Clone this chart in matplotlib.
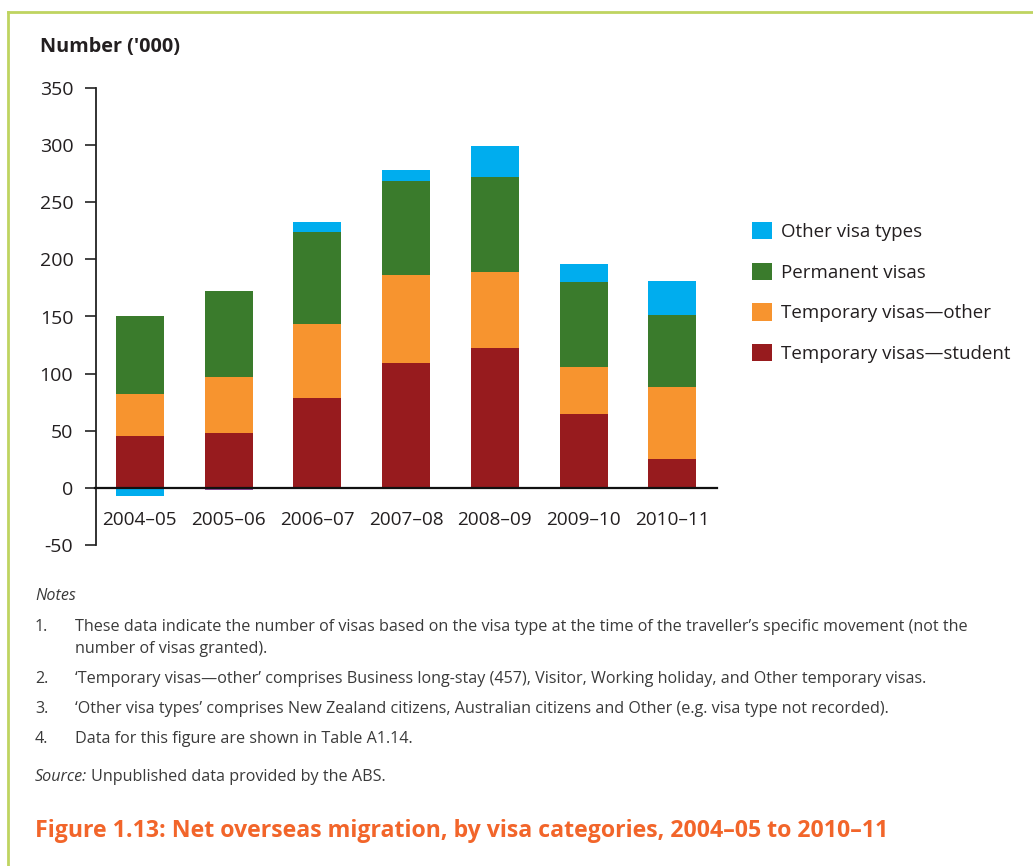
import numpy as np
import matplotlib
matplotlib.use("Agg")
import matplotlib.pyplot as plt
from matplotlib.lines import Line2D

plt.rcParams['font.family'] = ['Open Sans', 'DejaVu Sans']
plt.rcParams['axes.unicode_minus'] = False

# data ('000)
years = ['2004–05', '2005–06', '2006–07', '2007–08', '2008–09', '2009–10', '2010–11']
student = [45, 48, 79, 109, 122, 65, 25]
temp_other = [37, 49, 64, 77, 67, 41, 63]
permanent = [68, 75, 81, 83, 83, 74, 63]
other_visa = [-7, -1.5, 9, 9, 27, 16, 30]

series_names = ['Temporary visas—student', 'Temporary visas—other',
                'Permanent visas', 'Other visa types']
series_colors = ['#971b1e', '#f7942f', '#3a7b2c', '#00adee']

notes = [
    ('1.', ['These data indicate the number of visas based on the visa type at the time of the traveller’s specific movement (not the',
            'number of visas granted).']),
    ('2.', ['‘Temporary visas—other’ comprises Business long-stay (457), Visitor, Working holiday, and Other temporary visas.']),
    ('3.', ['‘Other visa types’ comprises New Zealand citizens, Australian citizens and Other (e.g. visa type not recorded).']),
    ('4.', ['Data for this figure are shown in Table A1.14.']),
]
title = 'Figure 1.13: Net overseas migration, by visa categories, 2004–05 to 2010–11'

W, H = 1033, 866
fig = plt.figure(figsize=(W / 100, H / 100), dpi=100)
txt = '#231f20'

ax = fig.add_axes([95.5 / W, 1 - 545 / H, (716.7 - 95.5) / W, (545 - 88) / H])
x = np.arange(len(years))
bw = 0.54

handles = []
bottom = np.zeros(len(years))
for vals, name, col in zip([student, temp_other, permanent], series_names[:3], series_colors[:3]):
    b = ax.bar(x, vals, bw, bottom=bottom, color=col, label=name, zorder=2)
    handles.append(b)
    bottom = bottom + np.array(vals)

ov = np.array(other_visa, dtype=float)
ov_bottom = np.where(ov > 0, bottom, 0)
ov_colors = [series_colors[3]] * len(years)
ov_colors[1] = '#8e4f9c'   # thin strip shows purple in the original
b = ax.bar(x, ov, bw, bottom=ov_bottom, color=ov_colors, label=series_names[3], zorder=2)
handles.append(b)

ax.set_xlim(-0.5, 6.5)
ax.set_ylim(-50, 350)
ax.set_yticks(range(-50, 351, 50))
ax.set_xticks(x)
ax.set_xticklabels(years)

for s in ['top', 'right']:
    ax.spines[s].set_visible(False)
ax.spines['bottom'].set_position(('data', 0))
ax.spines['bottom'].set_zorder(5)
ax.spines['bottom'].set_linewidth(1.6)
ax.spines['bottom'].set_color('#111111')
ax.spines['left'].set_linewidth(1.3)
ax.spines['left'].set_color('#222222')
ax.tick_params(axis='y', direction='out', length=8, width=1.2, pad=8,
               labelsize=14, labelcolor=txt, color='#222222')
ax.tick_params(axis='x', length=0, pad=17, labelsize=13.7, labelcolor=txt)

fig.text(40 / W, 1 - 47 / H, "Number ('000)", fontsize=14.3, fontweight='bold',
         color=txt, va='center', ha='left')

# legend, top entry first
leg = ax.legend([handles[3], handles[2], handles[1], handles[0]], series_names[::-1],
                loc='upper left',
                bbox_to_anchor=(752 / W, 1 - 222 / H), bbox_transform=fig.transFigure,
                frameon=False, fontsize=13.5, borderpad=0, borderaxespad=0,
                handlelength=1.05, handleheight=1.05, handletextpad=0.5,
                labelspacing=1.15)
for t in leg.get_texts():
    t.set_color(txt)
leg.legend_handles[0].set_facecolor(series_colors[3])

# notes
nc = '#3a3a3a'
nfs = 11.6
fig.text(35 / W, 1 - 596 / H, 'Notes', fontsize=nfs, style='italic', color=nc, va='center')
ys = [627, 679, 709, 739]
for (num, lines), yy in zip(notes, ys):
    fig.text(35 / W, 1 - yy / H, num, fontsize=nfs, color=nc, va='center')
    for k, line in enumerate(lines):
        fig.text(75 / W, 1 - (yy + 22 * k) / H, line, fontsize=nfs, color=nc, va='center')

src = fig.text(35 / W, 1 - 777 / H, 'Source:', fontsize=nfs, style='italic', color=nc, va='center')
r = fig.canvas.get_renderer()
x_end = src.get_window_extent(r).x1
fig.text((x_end + 4) / W, 1 - 777 / H, 'Unpublished data provided by the ABS.',
         fontsize=nfs, color=nc, va='center')

fig.text(35 / W, 1 - 831 / H, title, fontsize=16.7, fontweight='bold', color='#f2652a', va='center')

# green frame, top and left
fc = '#bfd460'
fig.add_artist(Line2D([8 / W, 8 / W], [0, 1 - 12 / H], transform=fig.transFigure, color=fc, lw=2))
fig.add_artist(Line2D([8 / W, 1], [1 - 12 / H, 1 - 12 / H], transform=fig.transFigure, color=fc, lw=2))

fig.savefig('out.png', dpi=100)
